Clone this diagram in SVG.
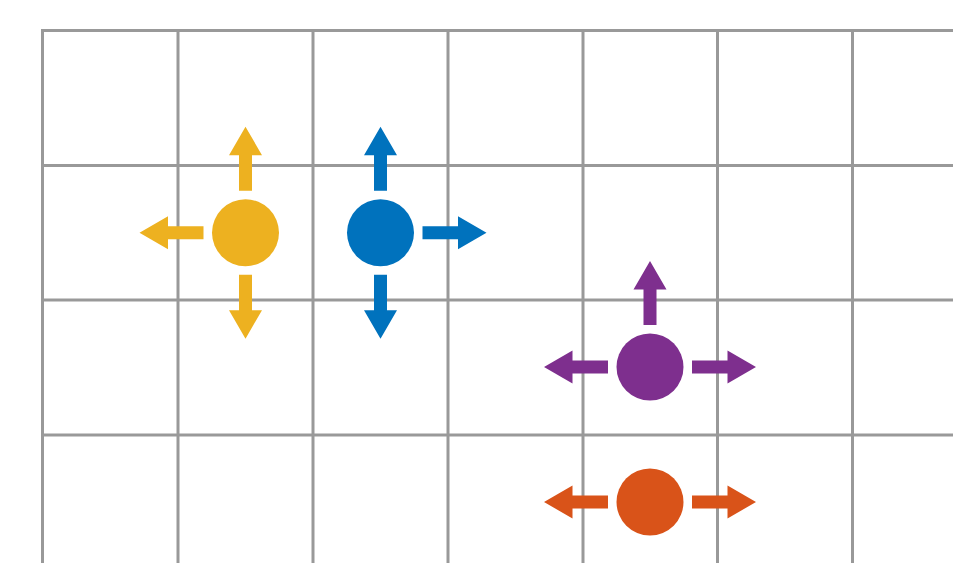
<svg xmlns="http://www.w3.org/2000/svg" width="953" height="563" viewBox="0 0 953 563">
  <defs>
    <style>
      .grid line { stroke: #999999; stroke-width: 3; }
      .yellow { fill: #EDB120; }
      .blue { fill: #0072BD; }
      .purple { fill: #7E2F8E; }
      .orange { fill: #D95319; }
    </style>
    <!-- arrow pointing right, starting 42px from the origin -->
    <polygon id="arrow" points="42,-6.5 77.5,-6.5 77.5,-16.5 106,0 77.5,16.5 77.5,6.5 42,6.5"/>
  </defs>
  <rect width="953" height="563" fill="#ffffff"/>

  <g class="grid">
    <line x1="42.5" y1="29" x2="42.5" y2="563"/>
    <line x1="178" y1="30.5" x2="178" y2="563"/>
    <line x1="313" y1="30.5" x2="313" y2="563"/>
    <line x1="448" y1="30.5" x2="448" y2="563"/>
    <line x1="583" y1="30.5" x2="583" y2="563"/>
    <line x1="717.5" y1="30.5" x2="717.5" y2="563"/>
    <line x1="852.5" y1="30.5" x2="852.5" y2="563"/>
    <line x1="41" y1="30.5" x2="953" y2="30.5"/>
    <line x1="41" y1="165.5" x2="953" y2="165.5"/>
    <line x1="41" y1="300" x2="953" y2="300"/>
    <line x1="41" y1="435" x2="953" y2="435"/>
  </g>

  <g id="connectors">
    <g class="yellow" transform="translate(245.5,232.7)">
      <use href="#arrow" transform="rotate(-90)"/>
      <use href="#arrow" transform="rotate(180)"/>
      <use href="#arrow" transform="rotate(90)"/>
    </g>
    <g class="blue" transform="translate(380.5,232.7)">
      <use href="#arrow" transform="rotate(-90)"/>
      <use href="#arrow"/>
      <use href="#arrow" transform="rotate(90)"/>
    </g>
    <g class="purple" transform="translate(650,367)">
      <use href="#arrow" transform="rotate(-90)"/>
      <use href="#arrow" transform="rotate(180)"/>
      <use href="#arrow"/>
    </g>
    <g class="orange" transform="translate(650,502)">
      <use href="#arrow" transform="rotate(180)"/>
      <use href="#arrow"/>
    </g>
  </g>

  <g id="node-yellow"><circle class="yellow" cx="245.5" cy="232.7" r="33.5"/></g>
  <g id="node-blue"><circle class="blue" cx="380.5" cy="232.7" r="33.5"/></g>
  <g id="node-purple"><circle class="purple" cx="650" cy="367" r="33.5"/></g>
  <g id="node-orange"><circle class="orange" cx="650" cy="502" r="33.5"/></g>
</svg>
